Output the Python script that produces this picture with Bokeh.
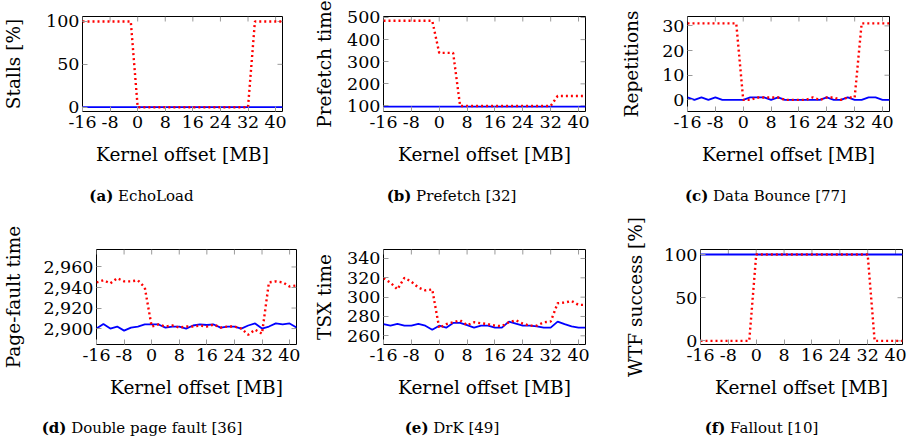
import math
from bokeh.plotting import figure
from bokeh.models import Range1d, FixedTicker, NumeralTickFormatter, Div
from bokeh.layouts import row, column
from bokeh.embed import file_html
from bokeh.resources import INLINE

# ---------------- data ----------------
offsets = [-16, -14, -12, -10, -8, -6, -4, -2, 0, 2, 4, 6, 8, 10, 12, 14,
           16, 18, 20, 22, 24, 26, 28, 30, 32, 34, 36, 38, 40, 42]
x_ticks = [-16, -8, 0, 8, 16, 24, 32, 40]
x_tick_labels = ["-16", "-8", "0", "8", "16", "24", "32", "40"]

echoload_blue = [0] * 30
echoload_red = [100, 100, 100, 100, 100, 100, 100, 100,
                0, 0, 0, 0, 0, 0, 0, 0, 0, 0, 0, 0, 0, 0, 0, 0, 0,
                100, 100, 100, 100, 100]

prefetch_blue = [97] * 30
prefetch_red = [485, 485, 485, 485, 485, 485, 485, 485,
                340, 340, 340,
                100, 100, 100, 100, 100, 100, 100, 100, 100, 100, 100, 100, 100, 100,
                145, 145, 145, 145, 145]

bounce_blue = [1, 0, 1, 0, 1, 0, 0, 0, 0, 1, 1, 1, 0, 1, 0,
               0, 0, 0, 0, 0, 1, 0, 0, 1, 0, 0, 1, 1, 0, 0]
bounce_red = [31, 31, 31, 31, 31, 31, 31, 31,
              0, 0, 1, 1, 1, 1, 0, 0, 0, 0, 1, 0, 1, 1, 0, 1, 1,
              31, 31, 31, 31, 31]

dpf_blue = [2900, 2904.5, 2900, 2902, 2898, 2901, 2902, 2904, 2904, 2904,
            2901, 2902, 2902, 2900, 2903, 2904, 2903.5, 2904, 2901, 2902,
            2902, 2900, 2903, 2905, 2900, 2902, 2905, 2904, 2905, 2901]
dpf_red = [2945, 2947, 2944, 2949, 2946, 2946, 2947, 2940, 2902, 2904,
           2902, 2903, 2901, 2902, 2902, 2903, 2902, 2904, 2901, 2902,
           2902, 2900, 2894, 2899, 2895, 2945, 2946, 2945, 2941, 2942]

drk_blue = [272, 270.5, 272.3, 270.5, 270.5, 272.3, 270.5, 266.3, 270.5, 268.4,
            273.3, 273.3, 271, 268.4, 270.5, 270.5, 268.4, 268.4, 274.7, 272.6,
            270.5, 270.5, 269.8, 268.4, 268.4, 274.7, 272, 269.8, 268.4, 268.4]
drk_red = [319.6, 315, 308, 320, 316, 310, 307, 308, 268, 272,
           274, 276, 271, 274, 273, 272, 270.5, 270, 274, 276,
           272.6, 270.5, 270.5, 274, 274.7, 293.7, 294.4, 296, 292, 292]

fallout_blue = [100] * 30
fallout_red = [0, 0, 0, 0, 0, 0, 0, 0,
               100, 100, 100, 100, 100, 100, 100, 100, 100, 100, 100, 100, 100, 100, 100, 100, 100,
               0, 0, 0, 0, 0]

FONT = "DejaVu Serif"
TICK_FS = "17.5px"
LABEL_FS = "18.5px"
TICK_COLOR = "#9a9a9a"
X_MIN, X_MAX = -16, 42


def panel(width, height, bl, br, bt, bb, yr, yticks, ylabel, blue, red,
          ystand, fmt=None):
    p = figure(width=width, height=height,
               min_border_left=bl, min_border_right=br,
               min_border_top=bt, min_border_bottom=bb,
               x_range=Range1d(X_MIN, X_MAX), y_range=Range1d(*yr),
               output_backend="svg", toolbar_location=None, tools="")
    p.grid.visible = False
    p.outline_line_color = "black"
    p.outline_line_width = 1
    p.outline_line_alpha = 1
    p.background_fill_color = "white"
    p.border_fill_color = "white"

    # mirrored inward ticks on the top and right edges
    p.ray(x=x_ticks, y=[yr[1]] * len(x_ticks), length=5, length_units="screen",
          angle=-math.pi / 2, line_color=TICK_COLOR, line_width=1)
    p.ray(x=[X_MAX] * len(yticks), y=yticks, length=5, length_units="screen",
          angle=math.pi, line_color=TICK_COLOR, line_width=1)

    p.line(offsets, blue, line_color="#0000ff", line_width=1.8)
    p.line(offsets, red, line_color="#ff0000", line_width=2.4, line_dash="2 3")

    for ax in (p.xaxis[0], p.yaxis[0]):
        ax.axis_line_color = None
        ax.major_tick_in = 5
        ax.major_tick_out = 0
        ax.major_tick_line_color = TICK_COLOR
        ax.major_tick_line_width = 1
        ax.minor_tick_line_color = None
        ax.major_label_text_font = FONT
        ax.major_label_text_font_size = TICK_FS
        ax.major_label_text_color = "black"
        ax.axis_label_text_font = FONT
        ax.axis_label_text_font_size = LABEL_FS
        ax.axis_label_text_font_style = "normal"
        ax.axis_label_text_color = "black"

    xa = p.xaxis[0]
    xa.ticker = FixedTicker(ticks=x_ticks)
    xa.major_label_overrides = dict(zip(x_ticks, x_tick_labels))
    xa.axis_label = "Kernel offset [MB]"
    xa.major_label_standoff = 4
    xa.axis_label_standoff = 13

    ya = p.yaxis[0]
    ya.ticker = FixedTicker(ticks=yticks)
    ya.axis_label = ylabel
    ya.major_label_standoff = 3
    ya.axis_label_standoff = ystand
    if fmt is not None:
        ya.formatter = NumeralTickFormatter(format=fmt)
    return p


def caption(letter, name, width, height, pad_top, pad_left, pad_right):
    html = ('<div style="box-sizing: border-box; width: %dpx; '
            'font-family: \'DejaVu Serif\', serif; font-size: 15px; '
            'line-height: 20px; text-align: center; color: black; white-space: nowrap; '
            'padding-top: %dpx; padding-left: %dpx; padding-right: %dpx;">'
            '<b>(%s)</b> %s</div>') % (width, pad_top, pad_left, pad_right, letter, name)
    return Div(text=html, width=width, height=height, margin=(0, 0, 0, 0))


# top row: 16 + 95 + 62 = 173
pa = panel(300, 173, 80, 18, 16, 62, (-5, 105.8), [0, 50, 100], "Stalls [%]",
           echoload_blue, echoload_red, 19)
pb = panel(310, 173, 83, 25, 16, 62, (75, 504.5), [100, 200, 300, 400, 500],
           "Prefetch time", prefetch_blue, prefetch_red, 9)
pc = panel(298, 173, 77, 19, 16, 62, (-4.7, 33.8), [0, 10, 20, 30], "Repetitions",
           bounce_blue, bounce_red, 17)

# bottom row: 36 + 95 + 62 = 193
pd = panel(300, 193, 94, 4, 36, 62, (2884.5, 2977), [2900, 2920, 2940, 2960],
           "Page-fault time", dpf_blue, dpf_red, 16, fmt="0,0")
pe = panel(312, 193, 83, 27, 36, 62, (251, 349.3), [260, 280, 300, 320, 340],
           "TSX time", drk_blue, drk_red, 9)
pf = panel(296, 193, 88, 6, 36, 62, (-4.2, 105.8), [0, 50, 100], "WTF success [%]",
           fallout_blue, fallout_red, 15)

ca = caption("a", "EchoLoad", 300, 40, 13, 0, 17)
cb = caption("b", "Prefetch [32]", 310, 40, 13, 0, 7)
cc = caption("c", "Data Bounce [77]", 298, 40, 13, 13, 0)
cd = caption("d", "Double page fault [36]", 300, 34, 12, 0, 16)
ce = caption("e", "DrK [49]", 312, 34, 12, 0, 8)
cf = caption("f", "Fallout [10]", 296, 34, 12, 3, 0)

top_row = row(column(pa, ca, spacing=0), column(pb, cb, spacing=0),
              column(pc, cc, spacing=0), spacing=0)
bot_row = row(column(pd, cd, spacing=0), column(pe, ce, spacing=0),
              column(pf, cf, spacing=0), spacing=0)
layout = column(top_row, bot_row, spacing=0)

open("out.html", "w").write(file_html(layout, INLINE))
